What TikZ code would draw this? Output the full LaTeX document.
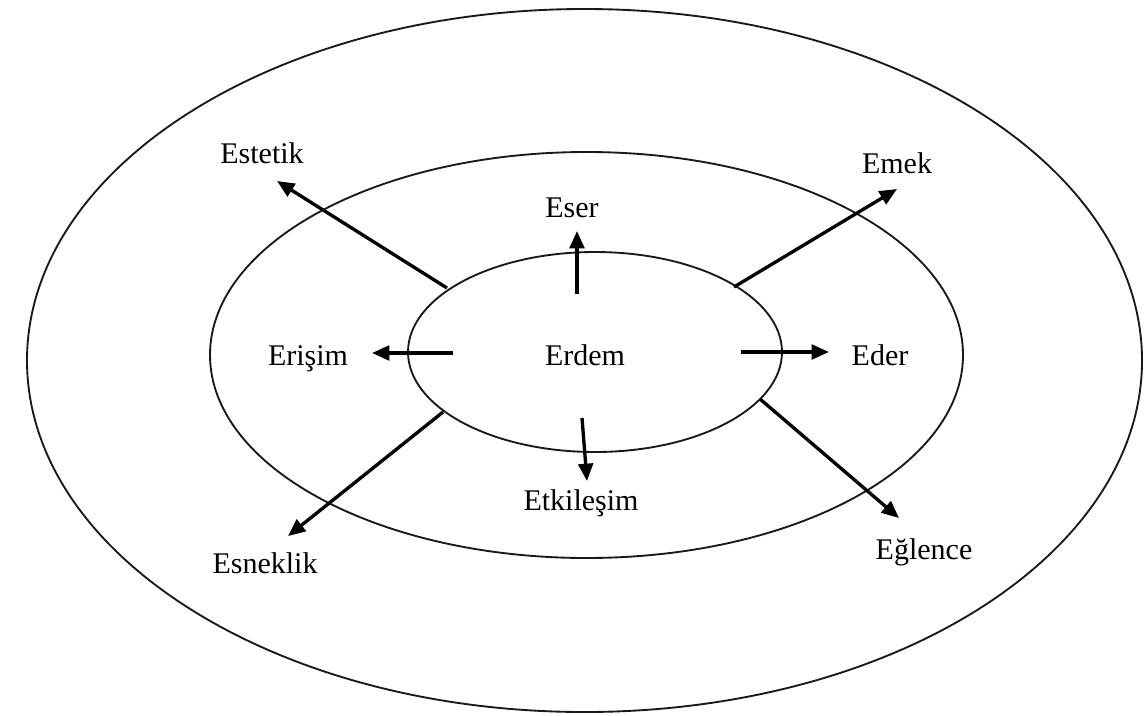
\documentclass[tikz,border=0pt]{standalone}
\usepackage{fontspec}
\setmainfont{Liberation Serif}
\usetikzlibrary{arrows.meta,shapes.geometric}

\tikzset{
  ring/.style={draw=black!90, line width=1.4pt, ellipse, inner sep=0pt},
  label/.style={anchor=base, inner sep=0pt, font=\fontsize{22.5}{26}\selectfont},
  pointer/.style={line width=2.5pt, -{Triangle[length=13pt,width=11pt]}}
}

\begin{document}
\begin{tikzpicture}[x=0.75pt, y=-0.75pt]
  \useasboundingbox (0,0) rectangle (1144,715);

  % three nested rings
  \node[ring, minimum width=836.25pt, minimum height=527.25pt] (outer) at (584.5,360.5) {};
  \node[ring, minimum width=564.75pt, minimum height=304.5pt] (middle) at (586.5,355) {};
  \node[ring, minimum width=280.5pt, minimum height=150pt] (inner) at (595,352) {};

  % labels
  \node[label] (erdem) at (585,365) {Erdem};
  \node[label] (estetik) at (262,163) {Estetik};
  \node[label] (eser) at (572,217) {Eser};
  \node[label] (emek) at (897,173) {Emek};
  \node[label] (erisim) at (308,365) {Erişim};
  \node[label] (eder) at (880,365) {Eder};
  \node[label] (etkilesim) at (581,510) {Etkileşim};
  \node[label] (eglence) at (924,559) {Eğlence};
  \node[label] (esneklik) at (265,573) {Esneklik};

  % arrow tails near the inner ring
  \coordinate (t-estetik) at (447,288);
  \coordinate (t-eser) at (577,294);
  \coordinate (t-emek) at (734,287);
  \coordinate (t-erisim) at (453,353);
  \coordinate (t-eder) at (741,352);
  \coordinate (t-etkilesim) at (582,418);
  \coordinate (t-eglence) at (760,399);
  \coordinate (t-esneklik) at (443,412);

  % arrow heads below/above the labels
  \coordinate (h-estetik) at (277,181);
  \coordinate (h-eser) at (577,231);
  \coordinate (h-emek) at (897,189);
  \coordinate (h-erisim) at (372,353);
  \coordinate (h-eder) at (829,352);
  \coordinate (h-etkilesim) at (587,481);
  \coordinate (h-eglence) at (899,518);
  \coordinate (h-esneklik) at (288,536);

  \draw[pointer] (t-estetik) -- (h-estetik);
  \draw[pointer] (t-eser) -- (h-eser);
  \draw[pointer] (t-emek) -- (h-emek);
  \draw[pointer] (t-erisim) -- (h-erisim);
  \draw[pointer] (t-eder) -- (h-eder);
  \draw[pointer] (t-etkilesim) -- (h-etkilesim);
  \draw[pointer] (t-eglence) -- (h-eglence);
  \draw[pointer] (t-esneklik) -- (h-esneklik);
\end{tikzpicture}
\end{document}
